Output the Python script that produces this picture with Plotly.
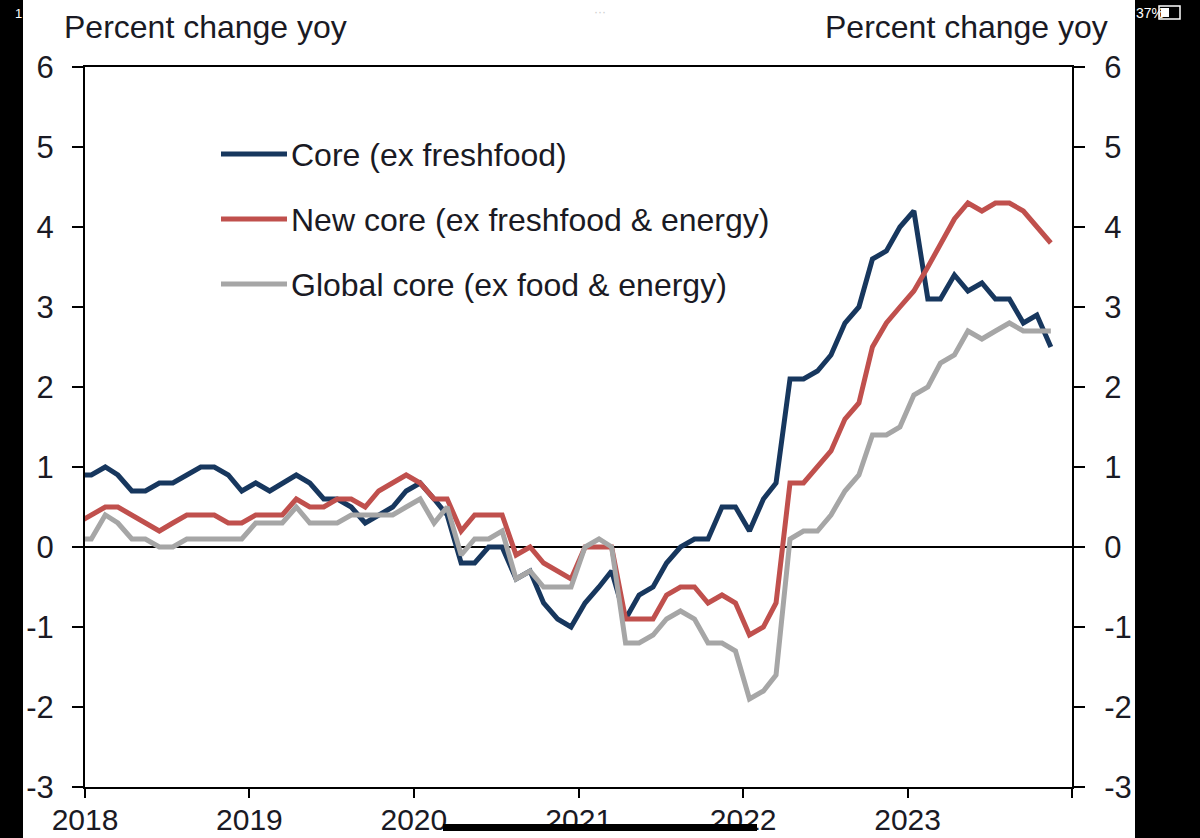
import pandas as pd
import plotly.graph_objects as go

# ---------------- data ----------------
# monthly observations, Dec 2017 .. Nov 2023 (plotted mid-month)
months = pd.date_range("2017-12-01", periods=72, freq="MS") + pd.Timedelta(days=14)

core = [
    0.9,                                                             # Dec 2017
    0.9, 1.0, 0.9, 0.7, 0.7, 0.8, 0.8, 0.9, 1.0, 1.0, 0.9, 0.7,      # 2018
    0.8, 0.7, 0.8, 0.9, 0.8, 0.6, 0.6, 0.5, 0.3, 0.4, 0.5, 0.7,      # 2019
    0.8, 0.6, 0.4, -0.2, -0.2, 0.0, 0.0, -0.4, -0.3, -0.7, -0.9, -1.0,  # 2020
    -0.7, -0.5, -0.3, -0.9, -0.6, -0.5, -0.2, 0.0, 0.1, 0.1, 0.5, 0.5,  # 2021
    0.2, 0.6, 0.8, 2.1, 2.1, 2.2, 2.4, 2.8, 3.0, 3.6, 3.7, 4.0,      # 2022
    4.2, 3.1, 3.1, 3.4, 3.2, 3.3, 3.1, 3.1, 2.8, 2.9, 2.5,           # 2023
]
new_core = [
    0.3,
    0.4, 0.5, 0.5, 0.4, 0.3, 0.2, 0.3, 0.4, 0.4, 0.4, 0.3, 0.3,
    0.4, 0.4, 0.4, 0.6, 0.5, 0.5, 0.6, 0.6, 0.5, 0.7, 0.8, 0.9,
    0.8, 0.6, 0.6, 0.2, 0.4, 0.4, 0.4, -0.1, 0.0, -0.2, -0.3, -0.4,
    0.0, 0.0, 0.0, -0.9, -0.9, -0.9, -0.6, -0.5, -0.5, -0.7, -0.6, -0.7,
    -1.1, -1.0, -0.7, 0.8, 0.8, 1.0, 1.2, 1.6, 1.8, 2.5, 2.8, 3.0,
    3.2, 3.5, 3.8, 4.1, 4.3, 4.2, 4.3, 4.3, 4.2, 4.0, 3.8,
]
global_core = [
    0.1,
    0.1, 0.4, 0.3, 0.1, 0.1, 0.0, 0.0, 0.1, 0.1, 0.1, 0.1, 0.1,
    0.3, 0.3, 0.3, 0.5, 0.3, 0.3, 0.3, 0.4, 0.4, 0.4, 0.4, 0.5,
    0.6, 0.3, 0.5, -0.1, 0.1, 0.1, 0.2, -0.4, -0.3, -0.5, -0.5, -0.5,
    0.0, 0.1, 0.0, -1.2, -1.2, -1.1, -0.9, -0.8, -0.9, -1.2, -1.2, -1.3,
    -1.9, -1.8, -1.6, 0.1, 0.2, 0.2, 0.4, 0.7, 0.9, 1.4, 1.4, 1.5,
    1.9, 2.0, 2.3, 2.4, 2.7, 2.6, 2.7, 2.8, 2.7, 2.7, 2.7,
]

series_names = [
    "Core (ex freshfood)",
    "New core (ex freshfood & energy)",
    "Global core (ex food & energy)",
]
series_colors = ["#17375E", "#C0504D", "#A6A6A6"]

year_ticks = ["2018-01-01", "2019-01-01", "2020-01-01", "2021-01-01",
              "2022-01-01", "2023-01-01", "2024-01-01"]
year_labels = ["2018", "2019", "2020", "2021", "2022", "2023", ""]
y_ticks = [-3, -2, -1, 0, 1, 2, 3, 4, 5, 6]
y_labels = ["-3", "-2", "-1", "0", "1", "2", "3", "4", "5", "6"]
axis_title = "Percent change yoy"

# ---------------- layout geometry ----------------
W, H = 1200, 838
L, R, T, B = 85, 128, 67, 51
PW, PH = W - L - R, H - T - B


def px_x(px):
    return (px - L) / PW


def px_y(py):
    return 1 - (py - T) / PH


FONT = "Liberation Sans, Arial, sans-serif"
TXT = "#1a1a24"

fig = go.Figure()
for vals, name, color, yax in zip([core, new_core, global_core], series_names,
                                  series_colors, ["y", "y", "y2"]):
    fig.add_trace(go.Scatter(x=months, y=vals, mode="lines", name=name,
                             yaxis=yax, showlegend=False, hoverinfo="skip",
                             line=dict(color=color, width=5)))

axis_common = dict(showgrid=False, showline=True, linecolor="black",
                   linewidth=2, ticks="outside", tickcolor="black",
                   tickwidth=2, automargin=False)

fig.update_layout(
    width=W, height=H,
    margin=dict(l=L, r=R, t=T, b=B, pad=0, autoexpand=False),
    paper_bgcolor="white", plot_bgcolor="white",
    font=dict(family=FONT, color=TXT),
    xaxis=dict(type="date", range=[year_ticks[0], year_ticks[-1]],
               tickvals=year_ticks, ticktext=year_labels, ticklen=9,
               ticklabelstandoff=-4,
               tickfont=dict(family=FONT, size=30, color=TXT),
               mirror=True, zeroline=False, **axis_common),
    yaxis=dict(range=[-3, 6], tickvals=y_ticks, ticktext=y_labels,
               ticklen=11, zeroline=True, zerolinecolor="black",
               zerolinewidth=2, ticklabelstandoff=12,
               tickfont=dict(family=FONT, size=31, color=TXT), **axis_common),
    yaxis2=dict(range=[-3, 6], tickvals=y_ticks, ticktext=y_labels,
                ticklen=11, overlaying="y", side="right", zeroline=False,
                ticklabelstandoff=13,
                tickfont=dict(family=FONT, size=31, color=TXT), **axis_common),
)

annotations = [
    dict(text=axis_title, x=px_x(62), y=px_y(27), xanchor="left", yanchor="middle"),
    dict(text=axis_title, x=px_x(1110), y=px_y(27), xanchor="right", yanchor="middle"),
]
for a in annotations:
    a.update(xref="paper", yref="paper", showarrow=False,
             font=dict(family=FONT, size=32, color=TXT))

shapes = []
legend_rows = [154, 219, 284]
for name, color, ry in zip(series_names, series_colors, legend_rows):
    shapes.append(dict(type="line", xref="paper", yref="paper",
                       x0=px_x(221), x1=px_x(287), y0=px_y(ry), y1=px_y(ry),
                       line=dict(color=color, width=5)))
    annotations.append(dict(text=name, xref="paper", yref="paper",
                            x=px_x(289), y=px_y(ry + 1), xanchor="left",
                            yanchor="middle", showarrow=False,
                            font=dict(family=FONT, size=32, color=TXT)))

# phone-screenshot frame (black side strips, home bar, status text)
shapes += [
    dict(type="rect", xref="paper", yref="paper", x0=px_x(0), x1=px_x(23),
         y0=px_y(H), y1=px_y(0), fillcolor="black", line=dict(width=0), layer="above"),
    dict(type="rect", xref="paper", yref="paper", x0=px_x(1135), x1=px_x(W),
         y0=px_y(H), y1=px_y(0), fillcolor="black", line=dict(width=0), layer="above"),
    dict(type="rect", xref="paper", yref="paper", x0=px_x(443), x1=px_x(757),
         y0=px_y(831), y1=px_y(824), fillcolor="black", line=dict(width=0), layer="above"),
    dict(type="rect", xref="paper", yref="paper", x0=px_x(1159), x1=px_x(1180),
         y0=px_y(19), y1=px_y(6), fillcolor="rgba(0,0,0,0)",
         line=dict(color="white", width=1.5), layer="above"),
    dict(type="rect", xref="paper", yref="paper", x0=px_x(1161), x1=px_x(1169),
         y0=px_y(17), y1=px_y(8), fillcolor="white", line=dict(width=0), layer="above"),
]
annotations += [
    dict(text="1", x=px_x(18), y=px_y(13), xanchor="center", yanchor="middle",
         font=dict(family=FONT, size=13, color="white")),
    dict(text="37%", x=px_x(1134), y=px_y(13), xanchor="left", yanchor="middle",
         font=dict(family=FONT, size=14, color="white")),
    dict(text="···", x=px_x(600), y=px_y(12), xanchor="center", yanchor="middle",
         font=dict(family=FONT, size=12, color="#cccccc")),
]
for a in annotations[-3:]:
    a.update(xref="paper", yref="paper", showarrow=False)

fig.update_layout(annotations=annotations, shapes=shapes)
fig.write_html("out.html",
               config={"displayModeBar": False, "staticPlot": True},
               post_script="document.body.style.margin='0px';"
                           "document.body.style.overflow='hidden';")
